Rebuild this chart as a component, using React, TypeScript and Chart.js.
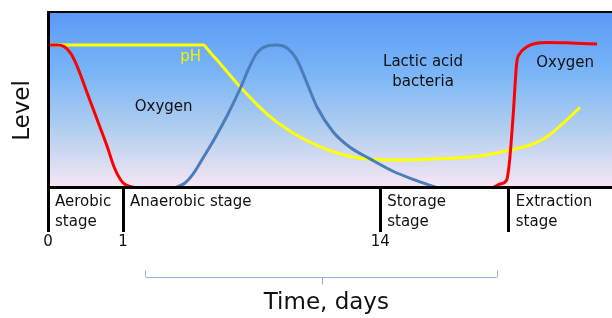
import { useEffect, useRef } from 'react';
import { Chart, registerables } from 'chart.js';

Chart.register(...registerables);

// ---- data (schematic time units 0..100, level 0..100) ----
const oxygenX = [0, 1.6, 2.84, 4.02, 5.2, 6.97, 8.74, 10.51, 11.7, 12.89, 13.83, 14.89, 15.6, 78.4, 79.08, 80.14, 81.33, 81.65, 81.91, 82.5, 83.1, 83.69, 84.4, 85.46, 86.88, 88.42, 92.55, 97.34];
const oxygenY = [81.1, 81.1, 80.3, 76.4, 68.7, 53.5, 38.3, 23.0, 11.6, 4.0, 1.1, 0, -0.9, -0.9, 0, 1.7, 4.0, 9.7, 17.3, 42.1, 70.7, 76.4, 78.9, 81.1, 82.3, 82.6, 82.3, 81.7];

const bacteriaX = [22.82, 24.29, 25.71, 27.48, 29.61, 31.91, 34.04, 35.64, 37.06, 38.83, 40.6, 42.38, 44.15, 45.92, 47.7, 50.53, 53.55, 57.09, 61.17, 65.37, 68.92];
const bacteriaY = [0, 2.3, 7.4, 16.6, 28.0, 41.7, 56.0, 68.0, 76.6, 80.6, 81.1, 79.4, 72.6, 59.4, 45.7, 31.6, 22.7, 16.1, 9.0, 3.6, -0.4];

const phX = [0, 27.57, 28.19, 29.08, 30.5, 34.57, 39.36, 43.44, 48.23, 53.55, 57.09, 62.41, 71.28, 76.6, 81.91, 85.46, 88.48, 91.31, 94.33];
const phY = [81.1, 81.1, 79.1, 75.7, 70.6, 55.4, 40.2, 30.9, 22.9, 17.4, 15.8, 15.4, 16.4, 17.7, 21.1, 24.0, 28.7, 36.4, 45.5];

const stageBoundaries = [0, 13.3, 58.9, 81.7];
const tickLabels = ['0', '1', '14', ''];
const stageLabels = [['Aerobic', 'stage'], ['Anaerobic stage'], ['Storage', 'stage'], ['Extraction', 'stage']];

const curveLabelTexts = [['pH'], ['Oxygen'], ['Lactic acid', 'bacteria'], ['Oxygen']];
const curveLabelX = [25.3, 20.5, 66.5, 91.7];
const curveLabelY = [74.0, 45.7, 71.4, 70.9];
const curveLabelColors = ['#f2f200', '#111111', '#111111', '#111111'];

const bracketRange = [17.2, 48.6, 79.8];

const FONT = 'DejaVu Sans';

const decorPlugin = {
  id: 'decor',
  beforeDraw(chart: any) {
    const { ctx, chartArea: a } = chart;
    const g = ctx.createLinearGradient(0, a.top, 0, a.bottom);
    g.addColorStop(0, '#5a9af5');
    g.addColorStop(0.35, '#7ab5f7');
    g.addColorStop(0.68, '#b3cfef');
    g.addColorStop(1, '#f6e6f4');
    ctx.save();
    ctx.fillStyle = g;
    ctx.fillRect(a.left, a.top, a.right - a.left, a.bottom - a.top);
    ctx.restore();
  },
  afterDraw(chart: any) {
    const { ctx, chartArea: a } = chart;
    const xs = chart.scales.x;
    const ys = chart.scales.y;
    ctx.save();
    // curve labels
    ctx.font = `15px "${FONT}"`;
    ctx.textAlign = 'center';
    ctx.textBaseline = 'middle';
    curveLabelTexts.forEach((lines, i) => {
      ctx.fillStyle = curveLabelColors[i];
      const px = xs.getPixelForValue(curveLabelX[i]);
      const py = ys.getPixelForValue(curveLabelY[i]);
      lines.forEach((t, j) => ctx.fillText(t, px, py + j * 20.5));
    });
    // stage labels
    ctx.fillStyle = '#111111';
    ctx.textAlign = 'left';
    ctx.textBaseline = 'alphabetic';
    stageLabels.forEach((lines, i) => {
      const px = xs.getPixelForValue(stageBoundaries[i]) + 7;
      lines.forEach((t, j) => ctx.fillText(t, px, a.bottom + 19 + j * 19.5));
    });
    // bracket
    const bl = xs.getPixelForValue(bracketRange[0]);
    const bc = xs.getPixelForValue(bracketRange[1]);
    const br = xs.getPixelForValue(bracketRange[2]);
    const by = a.bottom + 90.5;
    ctx.strokeStyle = '#93b1dc';
    ctx.lineWidth = 1;
    ctx.beginPath();
    ctx.moveTo(bl + 0.5, by - 7);
    ctx.lineTo(bl + 0.5, by - 1);
    ctx.quadraticCurveTo(bl + 0.5, by, bl + 2, by);
    ctx.lineTo(br - 2, by);
    ctx.quadraticCurveTo(br - 0.5, by, br - 0.5, by - 1);
    ctx.lineTo(br - 0.5, by - 7);
    ctx.moveTo(Math.round(bc) + 0.5, by);
    ctx.lineTo(Math.round(bc) + 0.5, by + 7);
    ctx.stroke();
    ctx.restore();
  },
};

export default function App() {
  const ref = useRef<HTMLCanvasElement | null>(null);

  useEffect(() => {
    document.body.style.margin = '0';
    const canvas = ref.current;
    if (!canvas) return;
    Chart.defaults.font.family = FONT;
    const toPts = (xs: number[], ys: number[]) => xs.map((x, i) => ({ x, y: ys[i] }));
    const lineCommon = {
      pointRadius: 0,
      cubicInterpolationMode: 'monotone',
      xAxisID: 'x',
      yAxisID: 'y',
    };
    const chart = new Chart(canvas, {
      type: 'line',
      data: {
        datasets: [
          {
            ...lineCommon,
            label: 'Oxygen',
            data: toPts(oxygenX, oxygenY),
            borderColor: '#ff0000',
            borderWidth: 3,
          },
          {
            ...lineCommon,
            label: 'Lactic acid bacteria',
            data: toPts(bacteriaX, bacteriaY),
            borderColor: '#4a7dba',
            borderWidth: 3,
          },
          {
            ...lineCommon,
            label: 'pH',
            data: toPts(phX, phY),
            borderColor: '#ffff00',
            borderWidth: 3,
          },
        ],
      },
      options: {
        animation: false,
        responsive: false,
        events: [],
        layout: { padding: 0 },
        plugins: { legend: { display: false }, tooltip: { enabled: false } },
        scales: {
          x: {
            type: 'linear',
            position: 'bottom',
            min: 0,
            max: 100,
            afterBuildTicks(s: any) {
              s.ticks = stageBoundaries.map((v) => ({ value: v }));
            },
            afterFit(s: any) {
              s.height = 131;
            },
            ticks: {
              autoSkip: false,
              maxRotation: 0,
              padding: 1,
              color: '#111111',
              font: { size: 15 },
              callback: (_v: any, i: number) => tickLabels[i],
            },
            grid: {
              display: true,
              drawOnChartArea: false,
              drawTicks: true,
              tickLength: 45,
              color: '#000000',
              lineWidth: 3,
            },
            border: { display: true, color: '#000000', width: 3, z: 1 },
            title: {
              display: true,
              text: 'Time, days ',
              color: '#111111',
              font: { size: 23 },
              padding: { top: 0, bottom: 1 },
            },
          },
          x2: {
            type: 'linear',
            position: 'top',
            min: 0,
            max: 100,
            afterFit(s: any) {
              s.height = 12;
            },
            ticks: { display: false },
            grid: { display: false },
            border: { display: true, color: '#000000', width: 2, z: 1 },
          },
          y: {
            type: 'linear',
            min: 0,
            max: 100,
            afterFit(s: any) {
              s.width = 48;
            },
            ticks: { display: false },
            grid: { display: false },
            border: { display: true, color: '#000000', width: 3, z: 1 },
            title: {
              display: true,
              text: 'Level   ',
              color: '#111111',
              font: { size: 23 },
              padding: { top: 9, bottom: 0 },
            },
          },
        },
      },
      plugins: [decorPlugin],
    } as any);
    return () => chart.destroy();
  }, []);

  return (
    <div style={{ width: 612, height: 318 }}>
      <canvas ref={ref} width={612} height={318} style={{ display: 'block' }} />
    </div>
  );
}
